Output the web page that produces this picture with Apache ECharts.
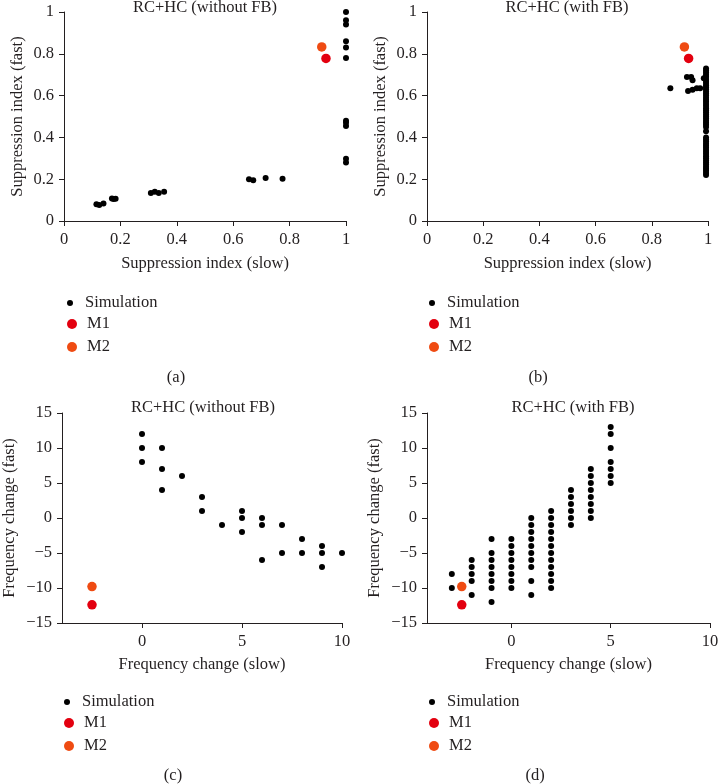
<!DOCTYPE html>
<html>
<head>
<meta charset="utf-8">
<script src="https://cdn.jsdelivr.net/npm/echarts@6/dist/echarts.min.js"></script>
<style>
  html, body { margin: 0; padding: 0; background: #fff; }
  #chart { width: 722px; height: 784px; }
</style>
</head>
<body>
<div id="chart"></div>
<script>
// (a) RC+HC without FB, suppression index
const simA = [
  [0.115, 0.080], [0.125, 0.077], [0.14, 0.084],
  [0.17, 0.108], [0.176, 0.105], [0.183, 0.107],
  [0.308, 0.134], [0.322, 0.140], [0.336, 0.134], [0.355, 0.140],
  [0.656, 0.200], [0.671, 0.195], [0.715, 0.206], [0.775, 0.202],
  [1, 1.0], [1, 0.96], [1, 0.94], [1, 0.86], [1, 0.83], [1, 0.78],
  [1, 0.48], [1, 0.47], [1, 0.455], [1, 0.298], [1, 0.28]
]
const m1A = [[0.929, 0.778]]
const m2A = [[0.914, 0.833]]

// (b) RC+HC with FB, suppression index
const simBScatter = [
  [0.866, 0.635], [0.925, 0.689], [0.94, 0.689], [0.945, 0.673],
  [0.929, 0.622], [0.945, 0.628], [0.96, 0.635], [0.972, 0.635], [0.985, 0.683]
]
const simBColumnX = 0.993
const simBColumnY = [
  0.73, 0.72, 0.71, 0.70, 0.69, 0.68, 0.67, 0.66, 0.65, 0.64, 0.63, 0.62, 0.61, 0.60,
  0.59, 0.58, 0.57, 0.56, 0.55, 0.54, 0.53, 0.52, 0.51, 0.50, 0.49, 0.48, 0.47, 0.46, 0.45,
  0.43,
  0.40, 0.39, 0.38, 0.37, 0.36, 0.35, 0.34, 0.33, 0.32, 0.31, 0.30, 0.29, 0.28, 0.27,
  0.26, 0.25, 0.24, 0.23, 0.22
]
const m1B = [[0.931, 0.778]]
const m2B = [[0.916, 0.833]]

// (c) RC+HC without FB, frequency change
const simC = [
  [0, 12], [0, 10], [0, 8],
  [1, 10], [1, 7], [1, 4],
  [2, 6],
  [3, 3], [3, 1],
  [4, -1],
  [5, 1], [5, 0], [5, -2],
  [6, 0], [6, -1], [6, -6],
  [7, -1], [7, -5],
  [8, -3], [8, -5],
  [9, -4], [9, -5], [9, -7],
  [10, -5]
]
const m1C = [[-2.5, -12.4]]
const m2C = [[-2.5, -9.8]]

// (d) RC+HC with FB, frequency change (one column per slow change)
const simDX = [-3, -2, -1, 0, 1, 2, 3, 4, 5]
const simDY = [
  [-8, -10],
  [-6, -7, -8, -9, -11],
  [-3, -5, -6, -7, -8, -9, -10, -12],
  [-3, -4, -5, -6, -7, -8, -9, -10],
  [0, -1, -2, -3, -4, -5, -6, -7, -9, -11],
  [1, 0, -1, -2, -3, -4, -5, -6, -7, -8, -9, -10],
  [4, 3, 2, 1, 0, -1],
  [7, 6, 5, 4, 3, 2, 1, 0],
  [13, 12, 10, 8, 7, 6, 5]
]
const m1D = [[-2.5, -12.4]]
const m2D = [[-2.5, -9.8]]

const freqXTicks = [0, 5, 10]
const freqXMin = [-4, -4.25]
const titles = ['RC+HC (without FB)', 'RC+HC (with FB)', 'RC+HC (without FB)', 'RC+HC (with FB)']
const letters = ['(a)', '(b)', '(c)', '(d)']

const simB = simBScatter.concat(simBColumnY.map(y => [simBColumnX, y]))
const simD = []
simDX.forEach((x, i) => simDY[i].forEach(y => simD.push([x, y])))

const FONT = "'Liberation Serif', 'Times New Roman', serif"
const FS = 16.5
const INK = '#231f20'
const RED = '#e3000f'
const ORANGE = '#ef4b12'
const txt = { fontFamily: FONT, fontSize: FS, color: INK }

const grids = [
  { left: 64, top: 12, width: 282, height: 209 },
  { left: 427, top: 12, width: 281, height: 209 },
  { left: 61, top: 413, width: 281, height: 210 },
  { left: 427, top: 413, width: 283, height: 210 }
]

function minus (v) { return String(v).replace('-', '\u2212') }

function axisBase () {
  return {
    axisLine: { onZero: false, lineStyle: { color: INK, width: 1 } },
    axisTick: { inside: false, length: 5, lineStyle: { color: INK } },
    axisLabel: { ...txt, margin: 10, formatter: minus },
    splitLine: { show: false },
    nameTextStyle: { ...txt },
    nameLocation: 'middle'
  }
}

const xAxis = []
const yAxis = []
for (let i = 0; i < 4; i++) {
  const supp = i < 2
  const x = axisBase()
  x.gridIndex = i
  x.type = 'value'
  if (supp) {
    Object.assign(x, { min: 0, max: 1, interval: 0.2, name: 'Suppression index (slow)', nameGap: 34 })
  } else {
    Object.assign(x, { min: freqXMin[i - 2], max: 10, name: 'Frequency change (slow)', nameGap: 33 })
    x.axisLabel.customValues = freqXTicks
    x.axisTick.customValues = freqXTicks
  }
  xAxis.push(x)
  const y = axisBase()
  y.gridIndex = i
  y.type = 'value'
  if (supp) {
    Object.assign(y, { min: 0, max: 1, interval: 0.2, name: 'Suppression index (fast)', nameGap: 38 })
  } else {
    Object.assign(y, { min: -15, max: 15, interval: 5, name: 'Frequency change (fast)', nameGap: 44 })
  }
  yAxis.push(y)
}

const panels = [[simA, m1A, m2A], [simB, m1B, m2B], [simC, m1C, m2C], [simD, m1D, m2D]]
const series = []
panels.forEach((p, i) => {
  series.push({ name: 'Simulation', type: 'scatter', xAxisIndex: i, yAxisIndex: i, data: p[0], symbolSize: 6, itemStyle: { color: '#000', opacity: 1 } })
  series.push({ name: 'M1', type: 'scatter', xAxisIndex: i, yAxisIndex: i, data: p[1], symbolSize: 9.5, itemStyle: { color: RED, opacity: 1 } })
  series.push({ name: 'M2', type: 'scatter', xAxisIndex: i, yAxisIndex: i, data: p[2], symbolSize: 9.5, itemStyle: { color: ORANGE, opacity: 1 } })
})

// legend positions (left, top of "Simulation" row) for each panel
const legendPos = [[67, 294], [429, 294], [64, 693], [429, 693]]
const legend = []
legendPos.forEach(([l, t]) => {
  legend.push({ data: ['Simulation'], left: l, top: t, padding: 0, icon: 'circle', itemWidth: 20, itemHeight: 6, selectedMode: false, textStyle: { ...txt, lineHeight: 18 } })
  legend.push({ data: ['M1', 'M2'], orient: 'vertical', left: l, top: t + 21, padding: 0, itemGap: 5, icon: 'circle', itemWidth: 20, itemHeight: 10, selectedMode: false, textStyle: { ...txt, lineHeight: 18 } })
})

const titlePos = [[205, 8], [567, 8], [203, 408], [573, 408]]
const letterPos = [[176, 378], [538, 378], [173, 776], [535, 776]]
const graphic = []
titles.forEach((t, i) => {
  graphic.push({ type: 'text', x: titlePos[i][0], y: titlePos[i][1], style: { text: t, font: FS + 'px ' + FONT, fill: INK, align: 'center', verticalAlign: 'middle' } })
  graphic.push({ type: 'text', x: letterPos[i][0], y: letterPos[i][1], style: { text: letters[i], font: FS + 'px ' + FONT, fill: INK, align: 'center', verticalAlign: 'middle' } })
})

const chart = echarts.init(document.getElementById('chart'), null, { renderer: 'canvas' })
chart.setOption({
  animation: false,
  backgroundColor: '#fff',
  grid: grids,
  xAxis: xAxis,
  yAxis: yAxis,
  legend: legend,
  graphic: graphic,
  series: series
})
</script>
</body>
</html>
